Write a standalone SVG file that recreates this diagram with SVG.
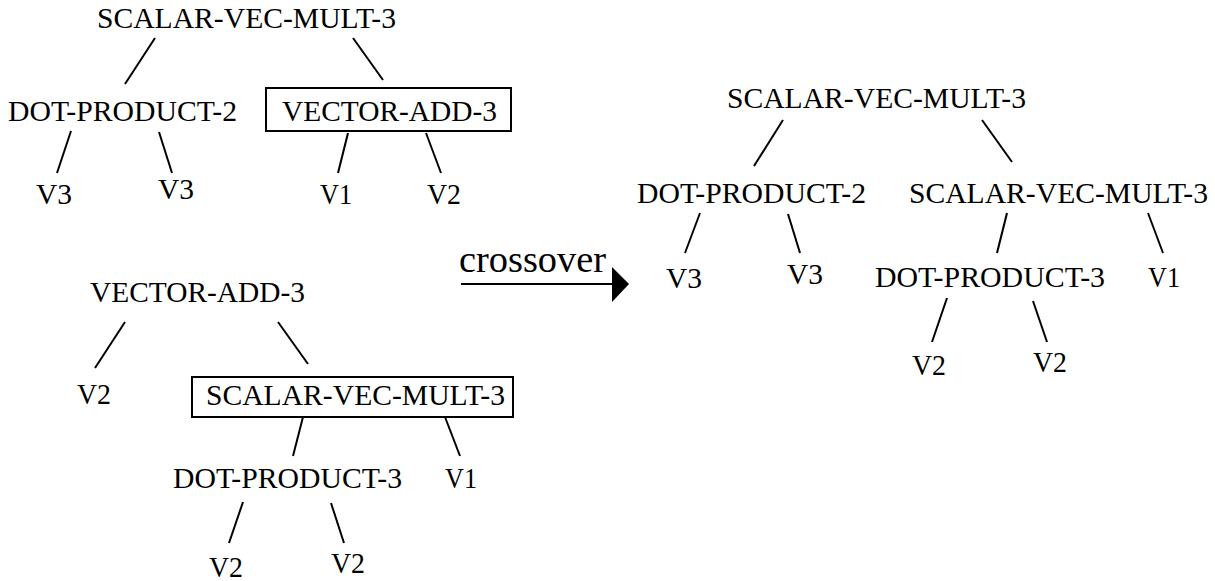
<svg xmlns="http://www.w3.org/2000/svg" width="1215" height="581" viewBox="0 0 1215 581">
<style>
.e line{stroke:#000;stroke-width:2;stroke-linecap:butt}
.box{fill:none;stroke:#000;stroke-width:2}
text{font-family:"Liberation Serif","Times New Roman","DejaVu Serif",serif;font-size:29px;fill:#000}
.svm{font-size:29px}
</style>
<rect width="1215" height="581" fill="#fff"/>
<g id="connectors" class="e">
<line x1="155" y1="38" x2="125" y2="84"/>
<line x1="353" y1="38" x2="383" y2="80"/>
<line x1="71" y1="131" x2="57" y2="173"/>
<line x1="159" y1="132" x2="172" y2="173"/>
<line x1="348" y1="133" x2="338" y2="173"/>
<line x1="426" y1="133" x2="441" y2="173"/>
<line x1="125" y1="322" x2="95" y2="368"/>
<line x1="278" y1="322" x2="308" y2="364"/>
<line x1="303" y1="417" x2="293" y2="456"/>
<line x1="445" y1="417" x2="460" y2="456"/>
<line x1="243" y1="502" x2="229" y2="543"/>
<line x1="331" y1="503" x2="344" y2="543"/>
<line x1="783" y1="120" x2="754" y2="166"/>
<line x1="982" y1="120" x2="1012" y2="162"/>
<line x1="700" y1="213" x2="685" y2="253"/>
<line x1="788" y1="214" x2="800" y2="253"/>
<line x1="1007" y1="213" x2="997" y2="253"/>
<line x1="1148" y1="213" x2="1163" y2="253"/>
<line x1="947" y1="298" x2="932" y2="342"/>
<line x1="1033" y1="301" x2="1047" y2="342"/>
</g>
<g id="arrow">
<text x="459" y="272" style="font-size:37px" textLength="147" lengthAdjust="spacingAndGlyphs">crossover</text>
<line x1="461" y1="284" x2="613" y2="284" stroke="#000" stroke-width="2"/>
<polygon points="612,267 629,284 612,302" fill="#000"/>
</g>
<g id="tree1">
<g id="t1-root"><text x="97" y="28" textLength="299" lengthAdjust="spacingAndGlyphs">SCALAR-VEC-MULT-3</text></g>
<g id="t1-dot"><text x="8" y="121" textLength="229" lengthAdjust="spacingAndGlyphs">DOT-PRODUCT-2</text></g>
<g id="t1-vadd"><rect class="box" x="266" y="88" width="245" height="43"/><text x="282" y="121" textLength="215" lengthAdjust="spacingAndGlyphs">VECTOR-ADD-3</text></g>
<g id="t1-v3a"><text x="36" y="204" textLength="36" lengthAdjust="spacingAndGlyphs">V3</text></g>
<g id="t1-v3b"><text x="158" y="199" textLength="36" lengthAdjust="spacingAndGlyphs">V3</text></g>
<g id="t1-v1"><text x="320" y="204" textLength="32" lengthAdjust="spacingAndGlyphs">V1</text></g>
<g id="t1-v2"><text x="427" y="204" textLength="34" lengthAdjust="spacingAndGlyphs">V2</text></g>
</g>
<g id="tree2">
<g id="t2-root"><text x="90" y="302" textLength="215" lengthAdjust="spacingAndGlyphs">VECTOR-ADD-3</text></g>
<g id="t2-v2"><text x="77" y="404" textLength="34" lengthAdjust="spacingAndGlyphs">V2</text></g>
<g id="t2-svm"><rect class="box" x="192" y="377" width="321" height="40"/><text x="206" y="405" textLength="299" lengthAdjust="spacingAndGlyphs">SCALAR-VEC-MULT-3</text></g>
<g id="t2-dot"><text x="173" y="488" textLength="229" lengthAdjust="spacingAndGlyphs">DOT-PRODUCT-3</text></g>
<g id="t2-v1"><text x="445" y="488" textLength="32" lengthAdjust="spacingAndGlyphs">V1</text></g>
<g id="t2-v2a"><text x="209" y="577" textLength="34" lengthAdjust="spacingAndGlyphs">V2</text></g>
<g id="t2-v2b"><text x="331" y="573" textLength="34" lengthAdjust="spacingAndGlyphs">V2</text></g>
</g>
<g id="tree3">
<g id="t3-root"><text x="727" y="108" textLength="299" lengthAdjust="spacingAndGlyphs">SCALAR-VEC-MULT-3</text></g>
<g id="t3-dot2"><text x="637" y="203" textLength="229" lengthAdjust="spacingAndGlyphs">DOT-PRODUCT-2</text></g>
<g id="t3-svm"><text x="909" y="203" textLength="299" lengthAdjust="spacingAndGlyphs">SCALAR-VEC-MULT-3</text></g>
<g id="t3-v3a"><text x="666" y="288" textLength="36" lengthAdjust="spacingAndGlyphs">V3</text></g>
<g id="t3-v3b"><text x="787" y="284" textLength="36" lengthAdjust="spacingAndGlyphs">V3</text></g>
<g id="t3-dot3"><text x="875" y="287" textLength="230" lengthAdjust="spacingAndGlyphs">DOT-PRODUCT-3</text></g>
<g id="t3-v1"><text x="1148" y="287" textLength="32" lengthAdjust="spacingAndGlyphs">V1</text></g>
<g id="t3-v2a"><text x="912" y="375" textLength="34" lengthAdjust="spacingAndGlyphs">V2</text></g>
<g id="t3-v2b"><text x="1033" y="372" textLength="34" lengthAdjust="spacingAndGlyphs">V2</text></g>
</g>
</svg>
